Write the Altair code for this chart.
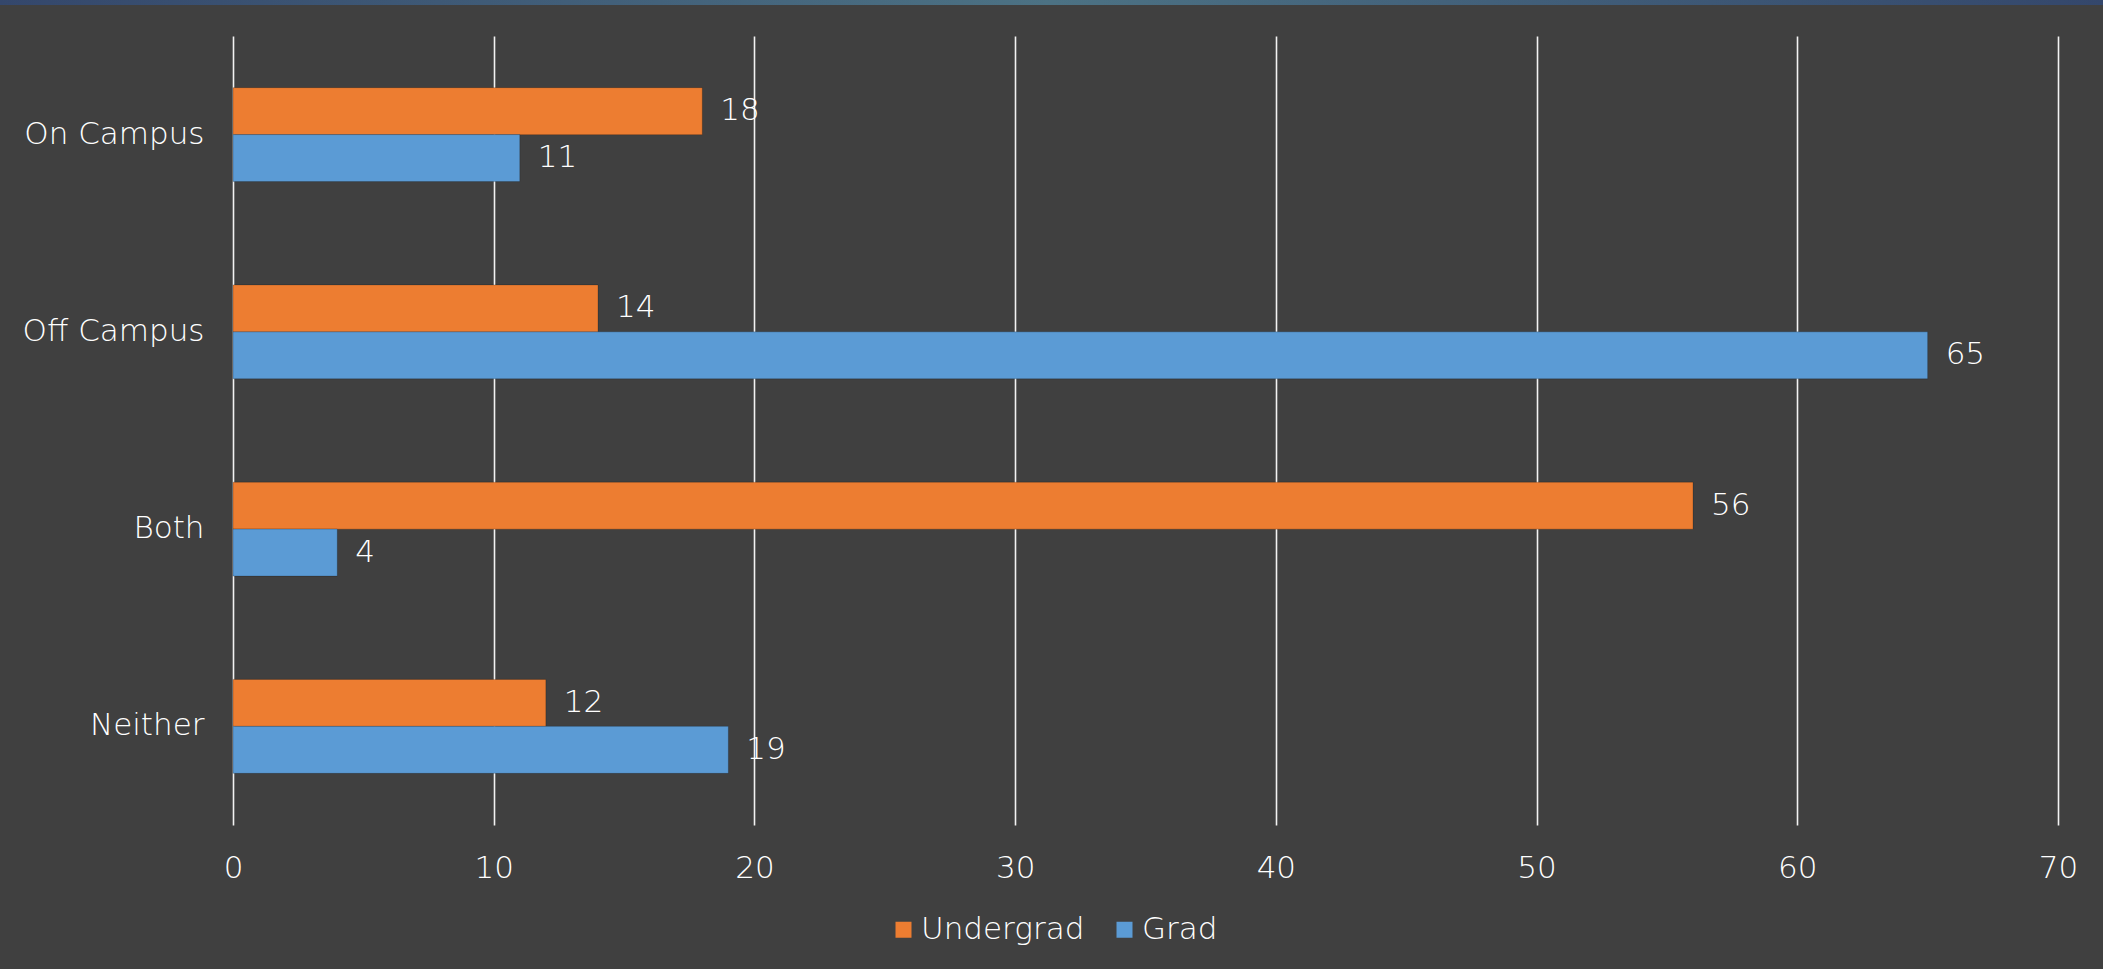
import altair as alt
import pandas as pd

# Survey answers, two student groups
categories = ["On Campus", "Off Campus", "Both", "Neither"]
groups = ["Undergrad", "Grad"]
undergrad = [18, 14, 56, 12]
grad = [11, 65, 4, 19]
x_ticks = [0, 10, 20, 30, 40, 50, 60, 70]

colors = ["#ED7D31", "#5B9BD5"]
bg = "#404040"
txt = "#FFFFFF"
font = "DejaVu Sans"
fw = 200
fs = 31

rows = []
for c, u, g in zip(categories, undergrad, grad):
    rows.append({"category": c, "group": "Undergrad", "value": u})
    rows.append({"category": c, "group": "Grad", "value": g})
df = pd.DataFrame(rows)

W, H = 1825, 789
PAD = {"left": 233, "top": 36, "right": 45, "bottom": 144}

y_enc = alt.Y(
    "category:N",
    sort=categories,
    scale=alt.Scale(paddingInner=0.524, paddingOuter=0.262),
    axis=alt.Axis(
        title=None, domain=False, ticks=False, grid=False,
        labelPadding=29, labelFontSize=fs, labelColor=txt, labelFont=font,
        labelFontWeight=fw, labelLimit=400,
    ),
)
y_off = alt.YOffset("group:N", sort=groups, scale=alt.Scale(paddingInner=0, paddingOuter=0))
x_enc = alt.X(
    "value:Q",
    scale=alt.Scale(domain=[0, 70], nice=False),
    axis=alt.Axis(
        title=None, values=x_ticks, domain=False, ticks=False,
        grid=True, gridColor="#F2F2F2", gridWidth=1.6, labelFlush=False,
        labelPadding=43, labelBaseline="middle", labelFontSize=fs,
        labelColor=txt, labelFont=font, labelFontWeight=fw,
    ),
)
color_enc = alt.Color(
    "group:N",
    sort=groups,
    scale=alt.Scale(domain=groups, range=colors),
    legend=alt.Legend(
        title=None, orient="none", direction="horizontal",
        legendX=655, legendY=878, symbolType="square", symbolSize=256,
        symbolStrokeWidth=0, labelFontSize=fs, labelColor=txt, labelFont=font,
        labelFontWeight=fw, labelLimit=400, columnPadding=24, symbolOffset=0,
        labelOffset=2,
    ),
)

bars = alt.Chart(df).mark_bar(size=47, stroke="#00000033", strokeWidth=1).encode(
    x=x_enc, y=y_enc, yOffset=y_off, color=color_enc
)

labels = alt.Chart(df).mark_text(
    align="left", baseline="middle", dx=18, fontSize=fs, font=font,
    fontWeight=fw, color=txt,
).encode(
    x="value:Q", y=alt.Y("category:N", sort=categories), yOffset=y_off,
    text="value:Q",
)

# thin header band across the top of the slide
band = alt.Chart(pd.DataFrame({"k": [0]})).mark_rect(
    color=alt.Gradient(
        gradient="linear", x1=0, x2=1, y1=0, y2=0,
        stops=[
            alt.GradientStop(color="#34476C", offset=0),
            alt.GradientStop(color="#4C7284", offset=0.5),
            alt.GradientStop(color="#34476C", offset=1),
        ],
    )
).encode(
    x=alt.value(-233), x2=alt.value(1870), y=alt.value(-36), y2=alt.value(-31)
)

chart = (
    alt.layer(bars, labels, band)
    .properties(width=W, height=H, background=bg, padding=PAD,
                autosize=alt.AutoSizeParams(type="none"))
    .configure_view(stroke=None)
)

chart.save("out.html", embed_options={"renderer": "svg", "actions": False})
